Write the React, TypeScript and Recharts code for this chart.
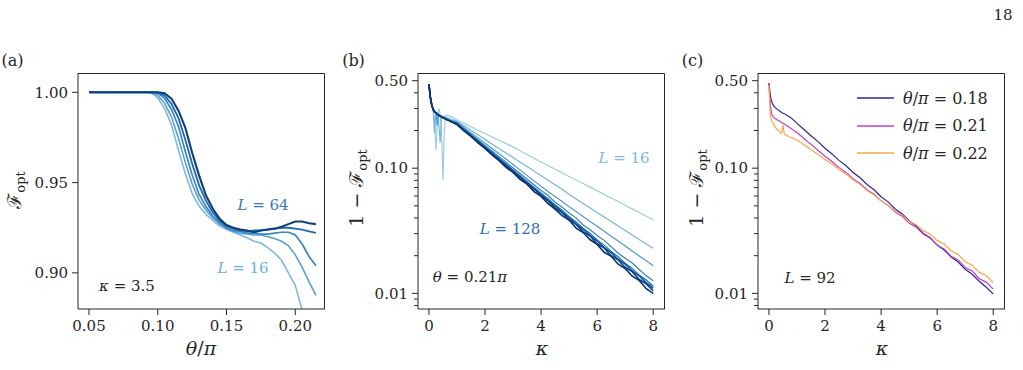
import React from "react";
import { LineChart, Line, XAxis, YAxis } from "recharts";

const FONT = "'DejaVu Serif', serif";
const INK = "#262626";

// ---- panel (a): F_opt vs theta/pi, kappa = 3.5
const thetaA = [
  0.05, 0.055, 0.06, 0.065, 0.07, 0.075, 0.08, 0.085, 0.09, 0.095, 0.1, 0.105,
  0.11, 0.115, 0.12, 0.125, 0.13, 0.135, 0.14, 0.145, 0.15, 0.155, 0.16, 0.165,
  0.17, 0.175, 0.18, 0.185, 0.19, 0.195, 0.2, 0.205, 0.21, 0.215,
];
const fidA16 = [
  1, 1, 1, 1, 1, 1, 1, 1, 1, 0.9998, 0.997, 0.991, 0.982, 0.968, 0.955, 0.944,
  0.937, 0.9325, 0.929, 0.926, 0.924, 0.9225, 0.921, 0.9195, 0.9175, 0.9165,
  0.914, 0.911, 0.907, 0.9, 0.893, 0.8795, 0.862, 0.845,
];
const fidA24 = [
  1, 1, 1, 1, 1, 1, 1, 1, 1, 0.9999, 0.9984, 0.9939, 0.9863, 0.9747, 0.9612,
  0.9493, 0.9404, 0.9348, 0.9305, 0.927, 0.9245, 0.923, 0.922, 0.9215, 0.921,
  0.921, 0.92, 0.919, 0.9175, 0.915, 0.91, 0.903, 0.895, 0.8875,
];
const fidA32 = [
  1, 1, 1, 1, 1, 1, 1, 1, 1, 1, 0.9997, 0.9966, 0.9905, 0.9812, 0.9672, 0.9543,
  0.9436, 0.9367, 0.9315, 0.928, 0.925, 0.9235, 0.923, 0.922, 0.922, 0.9215,
  0.9215, 0.922, 0.9225, 0.9225, 0.921, 0.916, 0.909, 0.904,
];
const fidA48 = [
  1, 1, 1, 1, 1, 1, 1, 1, 1, 1, 0.9999, 0.9982, 0.9935, 0.9858, 0.9739, 0.9605,
  0.9486, 0.9399, 0.9335, 0.929, 0.926, 0.9245, 0.9235, 0.923, 0.9235, 0.9235,
  0.924, 0.9245, 0.925, 0.925, 0.9245, 0.924, 0.923, 0.9222,
];
const fidA64 = [
  1, 1, 1, 1, 1, 1, 1, 1, 1, 1, 1, 0.9995, 0.9965, 0.99, 0.9805, 0.9665, 0.954,
  0.943, 0.9355, 0.93, 0.9265, 0.925, 0.924, 0.9235, 0.9225, 0.9235, 0.924,
  0.9245, 0.9255, 0.927, 0.9285, 0.9285, 0.9275, 0.927,
];
const sizesA = [16, 24, 32, 48, 64];
const colorsA = ["#7fb9de", "#58a1d1", "#3a86c3", "#2167ab", "#0e3f80"];
const widthsA = [1.6, 1.6, 1.7, 1.8, 2.1];

// ---- panel (b): 1 - F_opt vs kappa, theta = 0.21 pi
const kappa = [
  0, 0.05, 0.1, 0.15, 0.2, 0.25, 0.3, 0.35, 0.4, 0.45, 0.5, 0.55, 0.6, 0.65,
  0.7, 0.8, 0.9, 1, 1.25, 1.5, 1.75, 2, 2.25, 2.5, 2.75, 3, 3.25, 3.5, 3.75, 4,
  4.25, 4.5, 4.75, 5, 5.25, 5.5, 5.75, 6, 6.25, 6.5, 6.75, 7, 7.25, 7.5, 7.75, 8,
];
const infB16 = [
  0.47, 0.37, 0.32, 0.29, 0.25, 0.14, 0.24, 0.3, 0.27, 0.2, 0.08, 0.2, 0.262,
  0.265, 0.262, 0.256, 0.25, 0.243, 0.228, 0.214, 0.201, 0.189, 0.1776, 0.1671,
  0.1572, 0.148, 0.138, 0.1288, 0.1202, 0.1122, 0.105, 0.0982, 0.0918, 0.0859,
  0.0805, 0.0754, 0.0706, 0.0661, 0.0618, 0.0578, 0.0541, 0.0506, 0.0473,
  0.0442, 0.0413, 0.0385,
];
const infB24 = [
  0.47, 0.37, 0.32, 0.3, 0.19, 0.28, 0.279, 0.23, 0.16, 0.25, 0.262, 0.257,
  0.255, 0.253, 0.25, 0.245, 0.241, 0.237, 0.218, 0.2007, 0.1846, 0.1699,
  0.1563, 0.1438, 0.1323, 0.1217, 0.112, 0.103, 0.0948, 0.0872, 0.0802, 0.0738,
  0.0679, 0.0617, 0.0568, 0.0522, 0.0481, 0.0443, 0.0407, 0.0375, 0.0345,
  0.0318, 0.0293, 0.0269, 0.0248, 0.0229,
];
const infB32 = [
  0.47, 0.37, 0.32, 0.295, 0.283, 0.276, 0.22, 0.268, 0.264, 0.26, 0.257, 0.254,
  0.251, 0.248, 0.245, 0.2405, 0.237, 0.2333, 0.2118, 0.1923, 0.1746, 0.1585,
  0.1437, 0.1303, 0.1182, 0.1072, 0.0969, 0.0876, 0.0792, 0.0716, 0.0652,
  0.0594, 0.0541, 0.0492, 0.045, 0.0411, 0.0375, 0.0343, 0.0313, 0.0286,
  0.0262, 0.0239, 0.0218, 0.0199, 0.0182, 0.0166,
];
const infB48 = [
  0.47, 0.37, 0.32, 0.295, 0.283, 0.276, 0.27, 0.265, 0.261, 0.257, 0.254,
  0.251, 0.2485, 0.2455, 0.2425, 0.2375, 0.2335, 0.2301, 0.2075, 0.1871,
  0.1687, 0.1521, 0.1371, 0.1236, 0.1115, 0.1005, 0.0906, 0.0817, 0.0737,
  0.0664, 0.0605, 0.0535, 0.0487, 0.0439, 0.0401, 0.0352, 0.0322, 0.029,
  0.0265, 0.0236, 0.0209, 0.0191, 0.0175, 0.0155, 0.0138, 0.0126,
];
const infB64 = [
  0.47, 0.37, 0.32, 0.295, 0.283, 0.276, 0.27, 0.265, 0.261, 0.257, 0.254,
  0.2505, 0.2475, 0.2445, 0.2415, 0.2365, 0.2318, 0.228, 0.205, 0.184, 0.1656,
  0.1485, 0.1338, 0.1198, 0.1082, 0.0966, 0.0874, 0.078, 0.0706, 0.063, 0.057,
  0.0508, 0.0461, 0.041, 0.0372, 0.0331, 0.0301, 0.0267, 0.0243, 0.0216,
  0.0196, 0.0174, 0.0158, 0.014, 0.0128, 0.0114,
];
const infB80 = [
  0.47, 0.37, 0.32, 0.295, 0.283, 0.276, 0.27, 0.265, 0.261, 0.257, 0.254, 0.25,
  0.247, 0.244, 0.241, 0.236, 0.2305, 0.2259, 0.2025, 0.1825, 0.163, 0.147,
  0.1312, 0.1186, 0.1055, 0.0957, 0.085, 0.0772, 0.0685, 0.0622, 0.0551,
  0.0502, 0.0445, 0.0404, 0.0358, 0.0326, 0.0289, 0.0263, 0.0232, 0.0212,
  0.0187, 0.0171, 0.0151, 0.0138, 0.0122, 0.011,
];
const infB96 = [
  0.47, 0.37, 0.32, 0.295, 0.283, 0.276, 0.27, 0.265, 0.261, 0.257, 0.254, 0.25,
  0.247, 0.244, 0.241, 0.2355, 0.2298, 0.2244, 0.2015, 0.18, 0.1625, 0.1445,
  0.131, 0.116, 0.1052, 0.093, 0.0848, 0.0748, 0.0682, 0.06, 0.0548, 0.0482,
  0.0442, 0.0387, 0.0356, 0.031, 0.0287, 0.0249, 0.0231, 0.02, 0.0185, 0.0161,
  0.0149, 0.0129, 0.0119, 0.0105,
];
const infB128 = [
  0.47, 0.37, 0.32, 0.295, 0.283, 0.276, 0.27, 0.265, 0.261, 0.257, 0.254, 0.25,
  0.247, 0.244, 0.241, 0.235, 0.229, 0.2228, 0.199, 0.1795, 0.159, 0.144,
  0.1275, 0.115, 0.1015, 0.0925, 0.0815, 0.0745, 0.065, 0.0595, 0.052, 0.047,
  0.0418, 0.0385, 0.0332, 0.0306, 0.0268, 0.0246, 0.0213, 0.0198, 0.0171,
  0.0158, 0.0137, 0.0127, 0.0109, 0.01,
];
const sizesB = [16, 24, 32, 48, 64, 80, 96, 128];
const colorsB = [
  "#a0cbe4", "#76b4db", "#4f9acc", "#3482bf", "#2170b3", "#13599f", "#09468a",
  "#08336f",
];

// ---- panel (c): 1 - F_opt vs kappa, L = 92
const infC18 = [
  0.479, 0.38, 0.339, 0.32, 0.309, 0.302, 0.295, 0.29, 0.284, 0.28, 0.275,
  0.272, 0.268, 0.264, 0.26, 0.251, 0.24, 0.228, 0.2036, 0.1818, 0.163, 0.1445,
  0.13, 0.1155, 0.1045, 0.0925, 0.0838, 0.074, 0.0672, 0.0592, 0.0538, 0.0472,
  0.0432, 0.038, 0.0346, 0.0302, 0.0278, 0.0243, 0.0222, 0.0195, 0.0178,
  0.0156, 0.0142, 0.0125, 0.0112, 0.0099,
];
const infC21 = [
  0.479, 0.316, 0.269, 0.258, 0.251, 0.247, 0.243, 0.24, 0.236, 0.232, 0.229,
  0.225, 0.221, 0.218, 0.214, 0.207, 0.1995, 0.193, 0.1728, 0.1549, 0.1389,
  0.1245, 0.113, 0.101, 0.0925, 0.0825, 0.0755, 0.0672, 0.0618, 0.0548, 0.0505,
  0.0446, 0.0414, 0.0364, 0.0338, 0.0298, 0.0276, 0.0243, 0.0226, 0.0198,
  0.0185, 0.0161, 0.0151, 0.0131, 0.0123, 0.0108,
];
const infC22 = [
  0.457, 0.263, 0.237, 0.229, 0.216, 0.209, 0.203, 0.198, 0.194, 0.191, 0.221,
  0.186, 0.184, 0.182, 0.179, 0.176, 0.172, 0.168, 0.1537, 0.1406, 0.1286,
  0.1175, 0.1078, 0.097, 0.0898, 0.0808, 0.0742, 0.0662, 0.0612, 0.0548,
  0.0506, 0.0452, 0.0422, 0.0376, 0.0354, 0.0317, 0.0297, 0.0265, 0.0248,
  0.0218, 0.0205, 0.0179, 0.0168, 0.0147, 0.0139, 0.0122,
];
const thetasC = ["0.18", "0.21", "0.22"];
const colorsC = ["#2c2a90", "#c13fbf", "#f9a64a"];

const logMajor = [0.01, 0.1, 0.5];
const logMinor = [
  0.008, 0.009, 0.02, 0.03, 0.04, 0.05, 0.06, 0.07, 0.08, 0.09, 0.2, 0.3, 0.4,
];

const rowsA = thetaA.map((x, i) => ({
  x,
  L16: fidA16[i],
  L24: fidA24[i],
  L32: fidA32[i],
  L48: fidA48[i],
  L64: fidA64[i],
}));
const rowsB = kappa.map((x, i) => ({
  x,
  L16: infB16[i],
  L24: infB24[i],
  L32: infB32[i],
  L48: infB48[i],
  L64: infB64[i],
  L80: infB80[i],
  L96: infB96[i],
  L128: infB128[i],
}));
const rowsC = kappa.map((x, i) => ({
  x,
  t18: infC18[i],
  t21: infC21[i],
  t22: infC22[i],
}));

const W = 340;
const H = 370;
// plot box: x 78..325, y 73..309 inside each 340px panel
const MARGIN = { top: 73, right: 15, bottom: 31, left: 28 };
const tickStyle = { fill: INK, fontSize: 15, fontFamily: FONT };

interface Series {
  key: string;
  color: string;
  width: number;
}

interface PanelProps {
  rows: Record<string, number>[];
  series: Series[];
  xDomain: [number, number];
  xTicks: number[];
  xFmt: (v: number) => string;
  yDomain: [number, number];
  yMajor: number[];
  yMinor?: number[];
  log?: boolean;
}

// y tick draws its own outward tick mark: long for major, short for minor
function YTick(props: any) {
  const { x, y, payload, major } = props;
  const isMajor = (major as number[]).some((m) => Math.abs(m - payload.value) < 1e-9);
  return (
    <g>
      <line x1={x - (isMajor ? 6 : 4)} x2={x} y1={y} y2={y} stroke={INK} strokeWidth={1} />
      {isMajor && (
        <text x={x - 10} y={y} dy="0.35em" textAnchor="end" fill={INK} fontSize={15} fontFamily={FONT}>
          {Number(payload.value).toFixed(2)}
        </text>
      )}
    </g>
  );
}

function Panel({ rows, series, xDomain, xTicks, xFmt, yDomain, yMajor, yMinor = [], log }: PanelProps) {
  return (
    <LineChart width={W} height={H} data={rows} margin={MARGIN}>
      <XAxis
        xAxisId="x"
        dataKey="x"
        type="number"
        domain={xDomain}
        ticks={xTicks}
        interval={0}
        allowDataOverflow
        tickFormatter={xFmt}
        tickSize={6}
        tickMargin={5}
        stroke={INK}
        tick={tickStyle}
        height={30}
      />
      <YAxis
        yAxisId="y"
        type="number"
        scale={log ? "log" : "linear"}
        domain={yDomain}
        ticks={[...yMajor, ...yMinor]}
        interval={0}
        allowDataOverflow
        tickSize={0}
        tickMargin={0}
        tickLine={false}
        stroke={INK}
        tick={<YTick major={yMajor} />}
        width={50}
      />
      {series.map((s) => (
        <Line
          key={s.key}
          xAxisId="x"
          yAxisId="y"
          dataKey={s.key}
          type="linear"
          stroke={s.color}
          strokeWidth={s.width}
          dot={false}
          isAnimationActive={false}
        />
      ))}
    </LineChart>
  );
}

// top and right spines of a panel (the left and bottom come from the axes)
function Frame({ left }: { left: number }) {
  return (
    <svg
      width={249}
      height={238}
      style={{ position: "absolute", left: left + 77, top: 72, pointerEvents: "none" }}
    >
      <path d="M1 1.5 H247.5 V237" fill="none" stroke={INK} strokeWidth={1} />
    </svg>
  );
}

function Txt({ x, y, size = 15, color = INK, children }: { x: number; y: number; size?: number; color?: string; children: React.ReactNode }) {
  return (
    <div
      style={{
        position: "absolute",
        left: x,
        top: y,
        transform: "translate(-50%, -50%)",
        fontFamily: FONT,
        fontSize: size,
        color,
        lineHeight: 1,
        whiteSpace: "nowrap",
      }}
    >
      {children}
    </div>
  );
}

function YLabel({ x, y, children }: { x: number; y: number; children: React.ReactNode }) {
  return (
    <div
      style={{
        position: "absolute",
        left: x,
        top: y,
        transform: "translate(-50%, -50%) rotate(-90deg)",
        fontFamily: FONT,
        fontSize: 19,
        color: INK,
        lineHeight: 1,
        whiteSpace: "nowrap",
      }}
    >
      {children}
    </div>
  );
}

const Fopt = () => (
  <>
    ℱ<sub style={{ fontSize: 13 }}>opt</sub>
  </>
);

export default function App() {
  const seriesA = sizesA.map((L, i) => ({ key: `L${L}`, color: colorsA[i], width: widthsA[i] }));
  const seriesB = sizesB.map((L, i) => ({ key: `L${L}`, color: colorsB[i], width: i > 4 ? 1.6 : 1.2 }));
  const seriesC = thetasC.map((t, i) => ({ key: `t${t.slice(2)}`, color: colorsC[i], width: 1.2 }));

  return (
    <div style={{ position: "absolute", left: 0, top: 0, width: 1023, height: 370, background: "#fff" }}>
      <div style={{ position: "absolute", left: 0, top: 0 }}>
        <Panel
          rows={rowsA}
          series={seriesA}
          xDomain={[0.042, 0.2216]}
          xTicks={[0.05, 0.1, 0.15, 0.2]}
          xFmt={(v) => v.toFixed(2)}
          yDomain={[0.88, 1.0107]}
          yMajor={[0.9, 0.95, 1.0]}
        />
      </div>
      <div style={{ position: "absolute", left: 340, top: 0 }}>
        <Panel
          rows={rowsB}
          series={seriesB}
          xDomain={[-0.39, 8.42]}
          xTicks={[0, 2, 4, 6, 8]}
          xFmt={(v) => String(v)}
          yDomain={[0.0075, 0.576]}
          yMajor={logMajor}
          yMinor={logMinor}
          log
        />
      </div>
      <div style={{ position: "absolute", left: 680, top: 0 }}>
        <Panel
          rows={rowsC}
          series={seriesC}
          xDomain={[-0.39, 8.42]}
          xTicks={[0, 2, 4, 6, 8]}
          xFmt={(v) => String(v)}
          yDomain={[0.0075, 0.576]}
          yMajor={logMajor}
          yMinor={logMinor}
          log
        />
      </div>
      <Frame left={0} />
      <Frame left={340} />
      <Frame left={680} />

      <Txt x={1003} y={15} size={15}>18</Txt>
      <Txt x={12.5} y={61} size={16}>(a)</Txt>
      <Txt x={353.5} y={61} size={16}>(b)</Txt>
      <Txt x={692.5} y={61} size={16}>(c)</Txt>

      <YLabel x={16} y={190}><Fopt /></YLabel>
      <YLabel x={358} y={188}>1 − <Fopt /></YLabel>
      <YLabel x={698} y={188}>1 − <Fopt /></YLabel>

      <Txt x={201} y={348} size={19}><i>θ</i>/<i>π</i></Txt>
      <Txt x={542} y={348} size={19}><i>κ</i></Txt>
      <Txt x={882} y={348} size={19}><i>κ</i></Txt>

      <Txt x={263} y={205} color="#3a7abd"><i>L</i> = 64</Txt>
      <Txt x={243} y={268} color="#6cb0dc"><i>L</i> = 16</Txt>
      <Txt x={127} y={286}><i>κ</i> = 3.5</Txt>

      <Txt x={624} y={158} color="#7cb9df"><i>L</i> = 16</Txt>
      <Txt x={510} y={229} color="#2f6db3"><i>L</i> = 128</Txt>
      <Txt x={470} y={277}><i>θ</i> = 0.21<i>π</i></Txt>

      <Txt x={810} y={278}><i>L</i> = 92</Txt>

      {thetasC.map((t, i) => (
        <div key={t} style={{ position: "absolute", left: 857, top: 98 + i * 27.5 - 10, height: 20, display: "flex", alignItems: "center" }}>
          <svg width={37} height={4}>
            <line x1={0} x2={37} y1={2} y2={2} stroke={colorsC[i]} strokeWidth={1.5} />
          </svg>
          <span style={{ marginLeft: 9, fontFamily: FONT, fontSize: 16, color: INK, whiteSpace: "nowrap" }}>
            <i>θ</i>/<i>π</i> = {t}
          </span>
        </div>
      ))}
    </div>
  );
}
